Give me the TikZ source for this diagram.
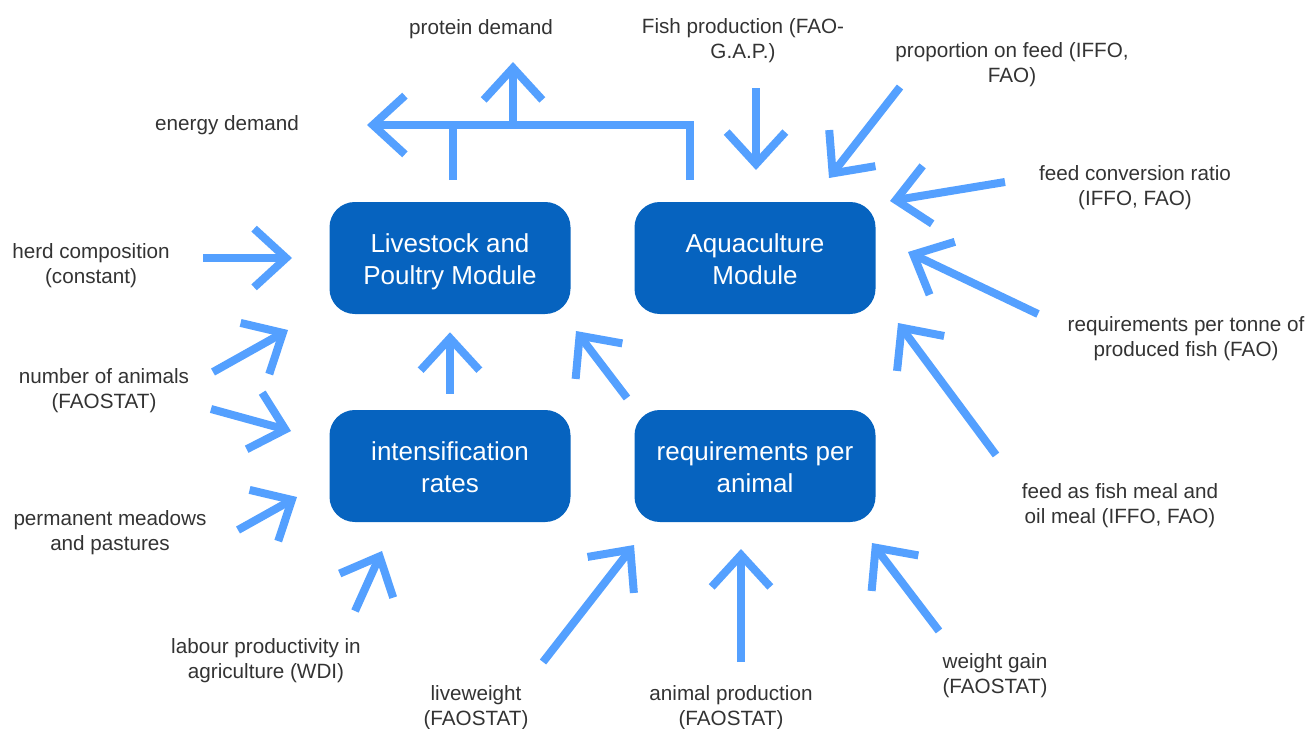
\documentclass[tikz,border=0pt]{standalone}
\usepackage{fontspec}
\setmainfont{Liberation Sans}
\usetikzlibrary{arrows.meta}
\definecolor{modblue}{RGB}{6,99,191}
\definecolor{arrblue}{RGB}{84,160,255}
\definecolor{txtgray}{RGB}{51,51,51}

\begin{document}
\begin{tikzpicture}[x=0.75pt,y=-0.75pt,
  module/.style={fill=modblue,rounded corners=19pt,minimum width=180.75pt,minimum height=84pt,align=center,text=white,text height=44pt,text depth=4.5pt,font=\fontsize{19.5}{24}\selectfont},
  lbl/.style={align=center,text=txtgray,font=\fontsize{15.5}{18.75}\selectfont,inner sep=0pt,yshift=-2.25pt},
  flow/.style={draw=arrblue,line width=6pt},
  feed/.style={flow,-{Straight Barb[length=24pt,width=44pt]}}]
\useasboundingbox (0,0) rectangle (1312,728);

% the four modules
\node[module] (lps) at (450,258) {Livestock and\\Poultry Module};
\node[module] (aqua) at (755,258) {Aquaculture\\Module};
\node[module] (intens) at (450,466) {intensification\\rates};
\node[module] (reqan) at (755,466) {requirements per\\animal};

% outputs
\node[lbl] (protein) at (481,26) {protein demand};
\node[lbl] (energy) at (227,122) {energy demand};

% inputs
\node[lbl] (herd) at (91,263) {herd composition\\(constant)};
\node[lbl] (animals) at (104,388) {number of animals\\(FAOSTAT)};
\node[lbl] (meadows) at (110,530) {permanent meadows\\and pastures};
\node[lbl] (labour) at (266,658) {labour productivity in\\agriculture (WDI)};
\node[lbl] (lweight) at (476,705) {liveweight\\(FAOSTAT)};
\node[lbl] (anprod) at (731,705) {animal production\\(FAOSTAT)};
\node[lbl] (wgain) at (995,673) {weight gain\\(FAOSTAT)};
\node[lbl] (fishprod) at (743,38) {Fish production (FAO-\\G.A.P.)};
\node[lbl] (propfeed) at (1012,62) {proportion on feed (IFFO,\\FAO)};
\node[lbl] (fcr) at (1135,185) {feed conversion ratio\\(IFFO, FAO)};
\node[lbl] (tonne) at (1186,336) {requirements per tonne of\\produced fish (FAO)};
\node[lbl] (fishmeal) at (1120,503) {feed as fish meal and\\oil meal (IFFO, FAO)};

% arrow ends
\coordinate (herd-a) at (203,258);     \coordinate (herd-b) at (292,258);
\coordinate (animals-a) at (213,372);  \coordinate (animals-b) at (288,330);
\coordinate (animals-c) at (211,409);  \coordinate (animals-d) at (291,431);
\coordinate (meadows-a) at (238,530);  \coordinate (meadows-b) at (297,497);
\coordinate (labour-a) at (355,611);   \coordinate (labour-b) at (382,551);
\coordinate (lweight-a) at (543,662);  \coordinate (lweight-b) at (634,545);
\coordinate (anprod-a) at (741,662);   \coordinate (anprod-b) at (741,549);
\coordinate (wgain-a) at (939,631);    \coordinate (wgain-b) at (872,543);
\coordinate (reqan-a) at (627,398);    \coordinate (reqan-b) at (576,331);
\coordinate (fishprod-a) at (756,88);  \coordinate (fishprod-b) at (756,170);
\coordinate (propfeed-a) at (900,87);  \coordinate (propfeed-b) at (829,178);
\coordinate (fcr-a) at (1005,182);     \coordinate (fcr-b) at (890,201);
\coordinate (tonne-a) at (1038,314);   \coordinate (tonne-b) at (908,252);
\coordinate (fishmeal-a) at (996,455); \coordinate (fishmeal-b) at (898,323);
\coordinate (aqua-out) at (690,180);
\coordinate (lps-out) at (453,180);
\coordinate (energy-in) at (367,125);
\coordinate (hub) at (513,125);
\coordinate (protein-in) at (513,62);

% outputs
\draw[feed] (aqua-out) |- (energy-in);
\draw[flow] (lps-out) -- (lps-out |- energy-in);
\draw[feed] (hub) -- (protein-in);

% inputs
\draw[feed] (herd-a) -- (herd-b);
\draw[feed] (animals-a) -- (animals-b);
\draw[feed] (animals-c) -- (animals-d);
\draw[feed] (meadows-a) -- (meadows-b);
\draw[feed] (labour-a) -- (labour-b);
\draw[feed] (lweight-a) -- (lweight-b);
\draw[feed] (anprod-a) -- (anprod-b);
\draw[feed] (wgain-a) -- (wgain-b);
\draw[feed,shorten <=12pt,shorten >=13.5pt] (intens.north) -- (lps.south);
\draw[feed] (reqan-a) -- (reqan-b);
\draw[feed] (fishprod-a) -- (fishprod-b);
\draw[feed] (propfeed-a) -- (propfeed-b);
\draw[feed] (fcr-a) -- (fcr-b);
\draw[feed] (tonne-a) -- (tonne-b);
\draw[feed] (fishmeal-a) -- (fishmeal-b);
\end{tikzpicture}
\end{document}
